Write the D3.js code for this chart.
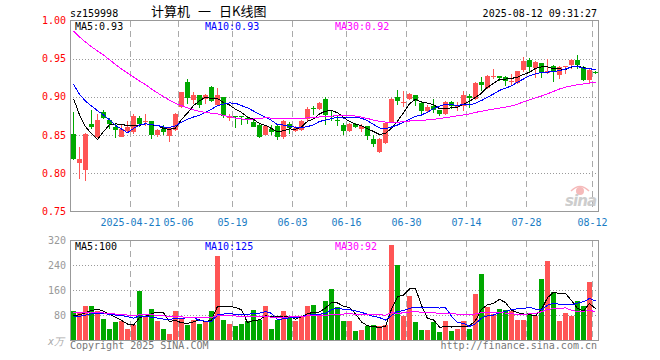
<!DOCTYPE html>
<html>
<head>
<meta charset="utf-8">
<script src="https://cdn.jsdelivr.net/npm/d3@7/dist/d3.min.js"></script>
<style>
body { margin: 0; background: #fff; }
svg text { font-family: "DejaVu Sans Mono", monospace; font-size: 10px; }
</style>
</head>
<body>
<script>
//Trading days shown, 2025-04-07 .. 2025-08-12
var dates = [
    "04-07","04-08","04-09","04-10","04-11","04-14","04-15","04-16","04-17","04-18",
    "04-21","04-22","04-23","04-24","04-25","04-28","04-29","04-30",
    "05-06","05-07","05-08","05-09","05-12","05-13","05-14","05-15","05-16","05-19",
    "05-20","05-21","05-22","05-23","05-26","05-27","05-28","05-29","05-30",
    "06-03","06-04","06-05","06-06","06-09","06-10","06-11","06-12","06-13","06-16",
    "06-17","06-18","06-19","06-20","06-23","06-24","06-25","06-26","06-27","06-30",
    "07-01","07-02","07-03","07-04","07-07","07-08","07-09","07-10","07-11","07-14",
    "07-15","07-16","07-17","07-18","07-21","07-22","07-23","07-24","07-25","07-28",
    "07-29","07-30","07-31","08-01","08-04","08-05","08-06","08-07","08-08","08-11","08-12"
]

var opens = [
    0.852,0.814,0.804,0.865,0.848,0.880,0.870,0.861,0.848,0.856,
    0.854,0.873,0.867,0.868,0.850,0.858,0.849,0.8565,0.887,0.919,
    0.8965,0.903,0.897,0.913,0.890,0.8996,0.8724,0.8748,0.8755,0.873,
    0.867,0.8627,0.8504,0.8583,0.8614,0.847,0.865,0.855,0.857,0.871,
    0.885,0.884,0.8978,0.8755,0.8692,0.8636,0.8548,0.8645,0.8583,0.8614,
    0.845,0.8276,0.8395,0.867,0.900,0.8934,0.8978,0.902,0.892,0.8811,
    0.8877,0.8825,0.8776,0.8934,0.8864,0.8877,0.9018,0.8978,0.9197,0.911,
    0.927,0.927,0.9263,0.9204,0.9184,0.9346,0.9478,0.9373,0.9447,0.9316,
    0.940,0.9285,0.9403,0.9417,0.9478,0.939,0.9215,0.933
]
var highs = [
    0.880,0.834,0.853,0.883,0.877,0.883,0.872,0.866,0.864,0.869,
    0.878,0.875,0.877,0.868,0.858,0.863,0.861,0.8785,0.907,0.924,
    0.9066,0.903,0.904,0.914,0.912,0.8996,0.878,0.8755,0.8755,0.8745,
    0.870,0.8658,0.8627,0.863,0.8627,0.870,0.8667,0.862,0.870,0.8864,
    0.8886,0.8934,0.8996,0.881,0.8746,0.8658,0.8653,0.866,0.8645,0.8623,
    0.8504,0.846,0.867,0.8987,0.9096,0.9075,0.905,0.903,0.8934,0.889,
    0.8978,0.8833,0.8943,0.895,0.8934,0.908,0.904,0.919,0.926,0.929,
    0.937,0.928,0.927,0.930,0.9338,0.952,0.9504,0.947,0.9447,0.950,
    0.9417,0.940,0.941,0.949,0.9544,0.9403,0.936,0.934
]
var lows = [
    0.818,0.793,0.790,0.858,0.846,0.871,0.858,0.846,0.847,0.853,
    0.851,0.861,0.862,0.845,0.848,0.850,0.841,0.8555,0.886,0.891,
    0.891,0.8855,0.891,0.893,0.889,0.873,0.869,0.859,0.8636,0.865,
    0.860,0.846,0.8496,0.8504,0.844,0.845,0.852,0.854,0.856,0.869,
    0.876,0.883,0.8627,0.868,0.8623,0.850,0.854,0.859,0.854,0.8439,
    0.835,0.8263,0.838,0.8662,0.890,0.8864,0.8965,0.8877,0.8759,0.879,
    0.879,0.8746,0.8759,0.8846,0.8811,0.881,0.8855,0.8965,0.908,0.910,
    0.924,0.9206,0.914,0.9153,0.9175,0.933,0.933,0.925,0.925,0.930,
    0.9197,0.923,0.930,0.936,0.937,0.9206,0.917,0.930
]
var closes = [
    0.819,0.819,0.852,0.860,0.870,0.872,0.864,0.857,0.858,0.860,
    0.875,0.864,0.868,0.850,0.857,0.8535,0.859,0.877,0.906,0.899,
    0.903,0.889,0.902,0.894,0.902,0.8746,0.8746,0.8735,0.874,0.870,
    0.861,0.847,0.8614,0.854,0.847,0.869,0.859,0.859,0.869,0.8846,
    0.8843,0.892,0.8768,0.874,0.8688,0.8548,0.8645,0.860,0.8623,0.849,
    0.838,0.845,0.8658,0.8978,0.8943,0.8936,0.904,0.8943,0.881,0.8864,
    0.8833,0.878,0.8934,0.8877,0.8886,0.903,0.8987,0.9184,0.9154,0.928,
    0.9275,0.925,0.9206,0.9206,0.9338,0.9469,0.939,0.946,0.9316,0.9338,
    0.9338,0.939,0.9404,0.9478,0.9417,0.9215,0.9346,0.931
]
//Volume, x10k shares
var volumes = [
    96,88,109,109,96,69,37,59,61,38,
    50,158,80,102,64,38,22,93,68,51,
    65,54,64,93,269,66,54,48,54,64,
    99,66,112,38,66,93,80,64,80,112,
    115,85,128,166,107,61,64,29,35,46,
    51,46,51,307,243,80,144,59,35,35,
    59,26,64,32,38,61,38,150,214,107,
    85,102,99,93,66,66,88,80,198,253,
    154,64,87,80,128,112,186,3
]
//Days before the window, only needed for the moving averages
var priorCloses = [
    1.048,1.053,1.043,1.038,1.033,1.043,1.048,1.033,1.023,1.028,
    1.018,1.013,1.023,1.008,1.003,0.998,1.003,0.993,0.988,0.983,
    0.950,0.940,0.925,0.930,0.930,0.925,0.930,0.905,0.910
]
var priorVolumes = [
    90,110,85,100,95,120,80,90,105,95,100,85,90,110,95,88,92,100,85,90,
    65,72,68,75,70,77,75,74,78
]

var priceTicks = [1.00, 0.95, 0.90, 0.85, 0.80, 0.75]
var volTicks = [320, 240, 160, 80]
var dateTicks = ["04-21","05-06","05-19","06-03","06-16","06-30","07-14","07-28","08-12"]
var dateTickLabels = ["2025-04-21","05-06","05-19","06-03","06-16","06-30","07-14","07-28","08-12"]
var maPeriods = [5, 10, 30]
var maColors = ["#000000", "#0000ff", "#ff00ff"]
var priceMaLabels = ["MA5:0.93", "MA10:0.93", "MA30:0.92"]
var volMaLabels = ["MA5:100", "MA10:125", "MA30:92"]

var red = "#ff5555", green = "#00a800"

//Chart area
var svg = d3.select("body").append("svg")
    .attr("width", 660)
    .attr("height", 360)

var x = d3.scaleBand()
    .domain(dates)
    .range([70, 598])
    .paddingInner(1 / 6)
    .paddingOuter(1 / 12)

var y = d3.scaleLinear().domain([0.75, 1.00]).range([211.5, 20.5])
var yv = d3.scaleLinear().domain([0, 320]).range([340.5, 240.5])

// Moving average, using the prior days for the first points
function movingAvg(series, prior, n) {
    var all = prior.concat(series)
    return series.map(function (v, i) {
        var j = i + prior.length
        return d3.mean(all.slice(j - n + 1, j + 1))
    })
}

var candles = dates.map(function (d, i) {
    return { date: d, o: opens[i], h: highs[i], l: lows[i], c: closes[i], v: volumes[i], up: closes[i] >= opens[i] }
})

//Grid lines
var grid = svg.append("g").attr("shape-rendering", "crispEdges")

grid.selectAll(".hp")
    .data([0.95, 0.90, 0.85, 0.80])
    .enter().append("line")
    .attr("x1", 70).attr("x2", 598)
    .attr("y1", d => Math.round(y(d)) + 0.5).attr("y2", d => Math.round(y(d)) + 0.5)
    .attr("stroke", "#999").attr("stroke-dasharray", "1,2")

grid.selectAll(".hv")
    .data([240, 160, 80])
    .enter().append("line")
    .attr("x1", 70).attr("x2", 598)
    .attr("y1", d => yv(d)).attr("y2", d => yv(d))
    .attr("stroke", "#999").attr("stroke-dasharray", "1,2")

dateTicks.forEach(function (d) {
    var gx = x(d)
    grid.append("line")
        .attr("x1", gx).attr("x2", gx).attr("y1", 21).attr("y2", 211)
        .attr("stroke", "#aaa").attr("stroke-dasharray", "6,4")
    grid.append("line")
        .attr("x1", gx).attr("x2", gx).attr("y1", 241).attr("y2", 340)
        .attr("stroke", "#aaa").attr("stroke-dasharray", "6,4")
})

//Panel frames
svg.append("rect")
    .attr("x", 70.5).attr("y", 20.5).attr("width", 528).attr("height", 191)
    .attr("fill", "none").attr("stroke", "#999").attr("shape-rendering", "crispEdges")
svg.append("rect")
    .attr("x", 70.5).attr("y", 240.5).attr("width", 528).attr("height", 100)
    .attr("fill", "none").attr("stroke", "#999").attr("shape-rendering", "crispEdges")

//Candles
var cg = svg.append("g").attr("shape-rendering", "crispEdges")
var candle = cg.selectAll(".candle")
    .data(candles)
    .enter().append("g")

candle.append("line")
    .attr("x1", d => Math.ceil(x(d.date)) + 2.5)
    .attr("x2", d => Math.ceil(x(d.date)) + 2.5)
    .attr("y1", d => Math.round(y(d.h)))
    .attr("y2", d => Math.round(y(d.l)))
    .attr("stroke", d => d.up ? red : green)

candle.append("rect")
    .attr("x", d => Math.ceil(x(d.date)))
    .attr("width", x.bandwidth())
    .attr("y", d => Math.round(y(Math.max(d.o, d.c))))
    .attr("height", d => Math.max(1, Math.round(y(Math.min(d.o, d.c))) - Math.round(y(Math.max(d.o, d.c)))))
    .attr("fill", d => d.up ? red : green)

//Volume bars
cg.selectAll(".vol")
    .data(candles)
    .enter().append("rect")
    .attr("x", d => Math.ceil(x(d.date)))
    .attr("width", x.bandwidth())
    .attr("y", d => Math.round(yv(d.v)))
    .attr("height", d => 340 - Math.round(yv(d.v)))
    .attr("fill", d => d.up ? red : green)

//Moving average lines
var cx = d => x(d) + 3
maPeriods.forEach(function (n, k) {
    var pma = movingAvg(closes, priorCloses, n)
    var vma = movingAvg(volumes, priorVolumes, n)
    svg.append("path")
        .attr("d", d3.line().x((v, i) => cx(dates[i])).y(v => y(v))(pma))
        .attr("fill", "none").attr("stroke", maColors[k]).attr("stroke-width", 1)
        .attr("shape-rendering", "crispEdges")
    svg.append("path")
        .attr("d", d3.line().x((v, i) => cx(dates[i])).y(v => yv(v))(vma))
        .attr("fill", "none").attr("stroke", maColors[k]).attr("stroke-width", 1)
        .attr("shape-rendering", "crispEdges")
})

//Axis labels
svg.selectAll(".py")
    .data(priceTicks)
    .enter().append("text")
    .attr("x", 66).attr("y", d => y(d) + 3.5)
    .attr("text-anchor", "end").attr("fill", "#f00")
    .text(d => d.toFixed(2))

svg.selectAll(".vy")
    .data(volTicks)
    .enter().append("text")
    .attr("x", 66).attr("y", d => yv(d) + 3.5)
    .attr("text-anchor", "end").attr("fill", "#999")
    .text(d => d)

svg.append("text")
    .attr("x", 64).attr("y", 345)
    .attr("text-anchor", "end").attr("fill", "#aaa")
    .attr("font-style", "italic")
    .text("x万")

svg.selectAll(".dx")
    .data(dateTicks)
    .enter().append("text")
    .attr("x", d => x(d)).attr("y", 226)
    .attr("text-anchor", "middle").attr("fill", "#1a7cc4")
    .text((d, i) => dateTickLabels[i])

//Legends
var legendX = [75, 205, 335]
priceMaLabels.forEach(function (t, k) {
    svg.append("text").attr("x", legendX[k]).attr("y", 30).attr("fill", maColors[k]).text(t)
})
volMaLabels.forEach(function (t, k) {
    svg.append("text").attr("x", legendX[k]).attr("y", 250).attr("fill", maColors[k]).text(t)
})

//Header
svg.append("text").attr("x", 70).attr("y", 17).attr("fill", "#000").text("sz159998")
svg.append("text").attr("x", 597).attr("y", 17).attr("text-anchor", "end").attr("fill", "#000").text("2025-08-12 09:31:27")
var title = svg.append("g")
    .style("font-family", "'Noto Sans CJK SC', sans-serif")
title.append("text").attr("x", 151).attr("y", 16).style("font-size", "13px").style("font-family", "'Noto Sans CJK SC'").text("计算机")
title.append("text").attr("x", 198).attr("y", 16).style("font-size", "13px").style("font-family", "'Noto Sans CJK SC'").text("一")
title.append("text").attr("x", 219).attr("y", 16).style("font-size", "13px").style("font-family", "'Noto Sans CJK SC'").text("日K线图")

//Footer
svg.append("text").attr("x", 70).attr("y", 349).attr("fill", "#777").text("Copyright 2025 SINA.COM")
svg.append("text").attr("x", 597).attr("y", 349).attr("text-anchor", "end").attr("fill", "#777").text("http://finance.sina.com.cn")

//Sina watermark
var wm = svg.append("g").attr("opacity", 0.9)
wm.append("circle").attr("cx", 580).attr("cy", 191).attr("r", 4).attr("fill", "#f5b3b3")
wm.append("path").attr("d", "M571,191 Q580,182 589,191").attr("fill", "none").attr("stroke", "#f5b3b3").attr("stroke-width", 1.5)
wm.append("text").attr("x", 565).attr("y", 206)
    .style("font-family", "'DejaVu Sans'").style("font-size", "15px")
    .attr("font-weight", "bold").attr("font-style", "italic")
    .attr("textLength", 32).attr("fill", "#c8c8c8")
    .text("sina")
</script>
</body>
</html>
